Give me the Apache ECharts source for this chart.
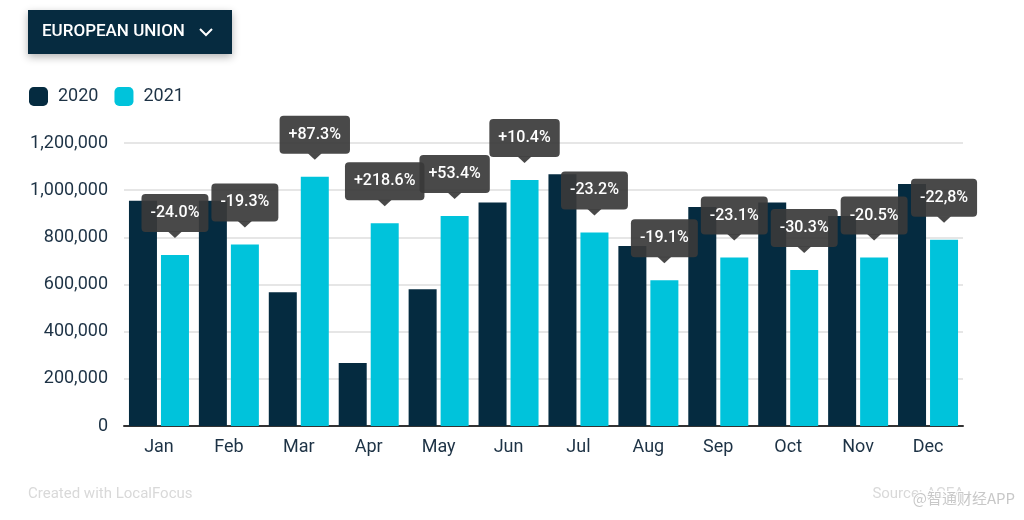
<!DOCTYPE html>
<html><head><meta charset="utf-8">
<script src="https://cdn.jsdelivr.net/npm/echarts@6/dist/echarts.min.js"></script>
<style>html,body{margin:0;padding:0;background:#fff}#c{width:1024px;height:520px}</style>
</head><body><div id="c"></div>
<script>
const months = ['Jan','Feb','Mar','Apr','May','Jun','Jul','Aug','Sep','Oct','Nov','Dec'];
const sales2020 = [955000, 955000, 567000, 267000, 580000, 948000, 1068000, 763000, 929000, 948000, 890000, 1026000];
const sales2021 = [725000, 770000, 1057000, 860000, 890000, 1043000, 821000, 618000, 714000, 661000, 714000, 790000];
const changeLabels = ['-24.0%','-19.3%','+87.3%','+218.6%','+53.4%','+10.4%','-23.2%','-19.1%','-23.1%','-30.3%','-20.5%','-22,8%'];
const yTicks = [0, 200000, 400000, 600000, 800000, 1000000, 1200000];

const FONT = "Roboto, 'Noto Sans', sans-serif";
const BAR_W = 28, BAR_GAP = 4;
const chart = echarts.init(document.getElementById('c'));
chart.setOption({
  animation: false,
  textStyle: {fontFamily: FONT},
  grid: {left: 124, right: 61, top: 143, bottom: 94},
  legend: {
    left: 24, top: 82, itemWidth: 19, itemHeight: 19, icon: 'roundRect', itemGap: 16,
    textStyle: {fontSize: 18, color: '#1d3245', fontFamily: FONT, padding: [0,0,0,5]},
    data: ['2020','2021']
  },
  xAxis: {
    type: 'category', data: months,
    axisLine: {lineStyle: {color: '#333', width: 2}},
    axisTick: {show: false},
    axisLabel: {fontSize: 18, color: '#1d3245', margin: 12}
  },
  yAxis: {
    type: 'value', min: yTicks[0], max: yTicks[yTicks.length-1], interval: yTicks[1]-yTicks[0],
    axisLine: {show: false}, axisTick: {show: false},
    splitLine: {lineStyle: {color: '#e6e6e6', width: 2}},
    axisLabel: {fontSize: 18, color: '#1d3245', margin: 16,
      formatter: v => v.toLocaleString('en-US')}
  },
  series: [
    {name: '2020', type: 'bar', data: sales2020, barWidth: BAR_W, barGap: (BAR_GAP/BAR_W*100)+'%',
     itemStyle: {color: '#052b40'}},
    {name: '2021', type: 'bar', data: sales2021, barWidth: BAR_W,
     itemStyle: {color: '#00c3db'}},
    {type: 'custom', z: 5, silent: true,
     data: sales2021.map((v,i) => [i, v]),
     encode: {x: 0, y: 1},
     renderItem: function(params, api) {
       const p = api.coord([api.value(0), api.value(1)]);
       const cx = p[0] + (BAR_W + BAR_GAP)/2;
       const tip = p[1] - 17;
       const ah = 6;
       return {type: 'group', children: [
         {type: 'polygon', shape: {points: [[cx-7, tip-ah-0.5],[cx+7, tip-ah-0.5],[cx, tip]]},
          style: {fill: 'rgba(58,58,58,0.92)'}},
         {type: 'text', x: cx, y: tip-ah,
          style: {text: changeLabels[params.dataIndex], fill: '#fff',
            font: "500 16px " + FONT, align: 'center', verticalAlign: 'bottom',
            lineHeight: 18,
            backgroundColor: 'rgba(58,58,58,0.92)', padding: [10, 9], borderRadius: 4}}
       ]};
     }}
  ],
  graphic: [
    {type: 'rect', left: 28, top: 10, shape: {width: 204, height: 44},
     style: {fill: '#062b40', shadowBlur: 8, shadowColor: 'rgba(0,0,0,0.3)', shadowOffsetY: 3}},
    {type: 'text', left: 42, top: 23, style: {text: 'EUROPEAN UNION', fill: '#fff', font: "500 17px " + FONT}},
    {type: 'polyline', shape: {points: [[200,29],[206,35],[212,29]]}, style: {stroke: '#fff', lineWidth: 2, fill: null}},
    {type: 'text', left: 28, top: 487, style: {text: 'Created with LocalFocus', fill: '#d9d9d9', font: "15px " + FONT}},
    {type: 'text', right: 60, top: 487, style: {text: 'Source: ACEA', fill: '#d9d9d9', font: "15px " + FONT}},
    {type: 'text', right: 8, top: 490, style: {text: '@智通财经APP', fill: '#c8c8c8', stroke: '#fff', lineWidth: 2,
      font: "15px 'Noto Sans CJK SC', sans-serif"}}
  ]
});
</script></body></html>
